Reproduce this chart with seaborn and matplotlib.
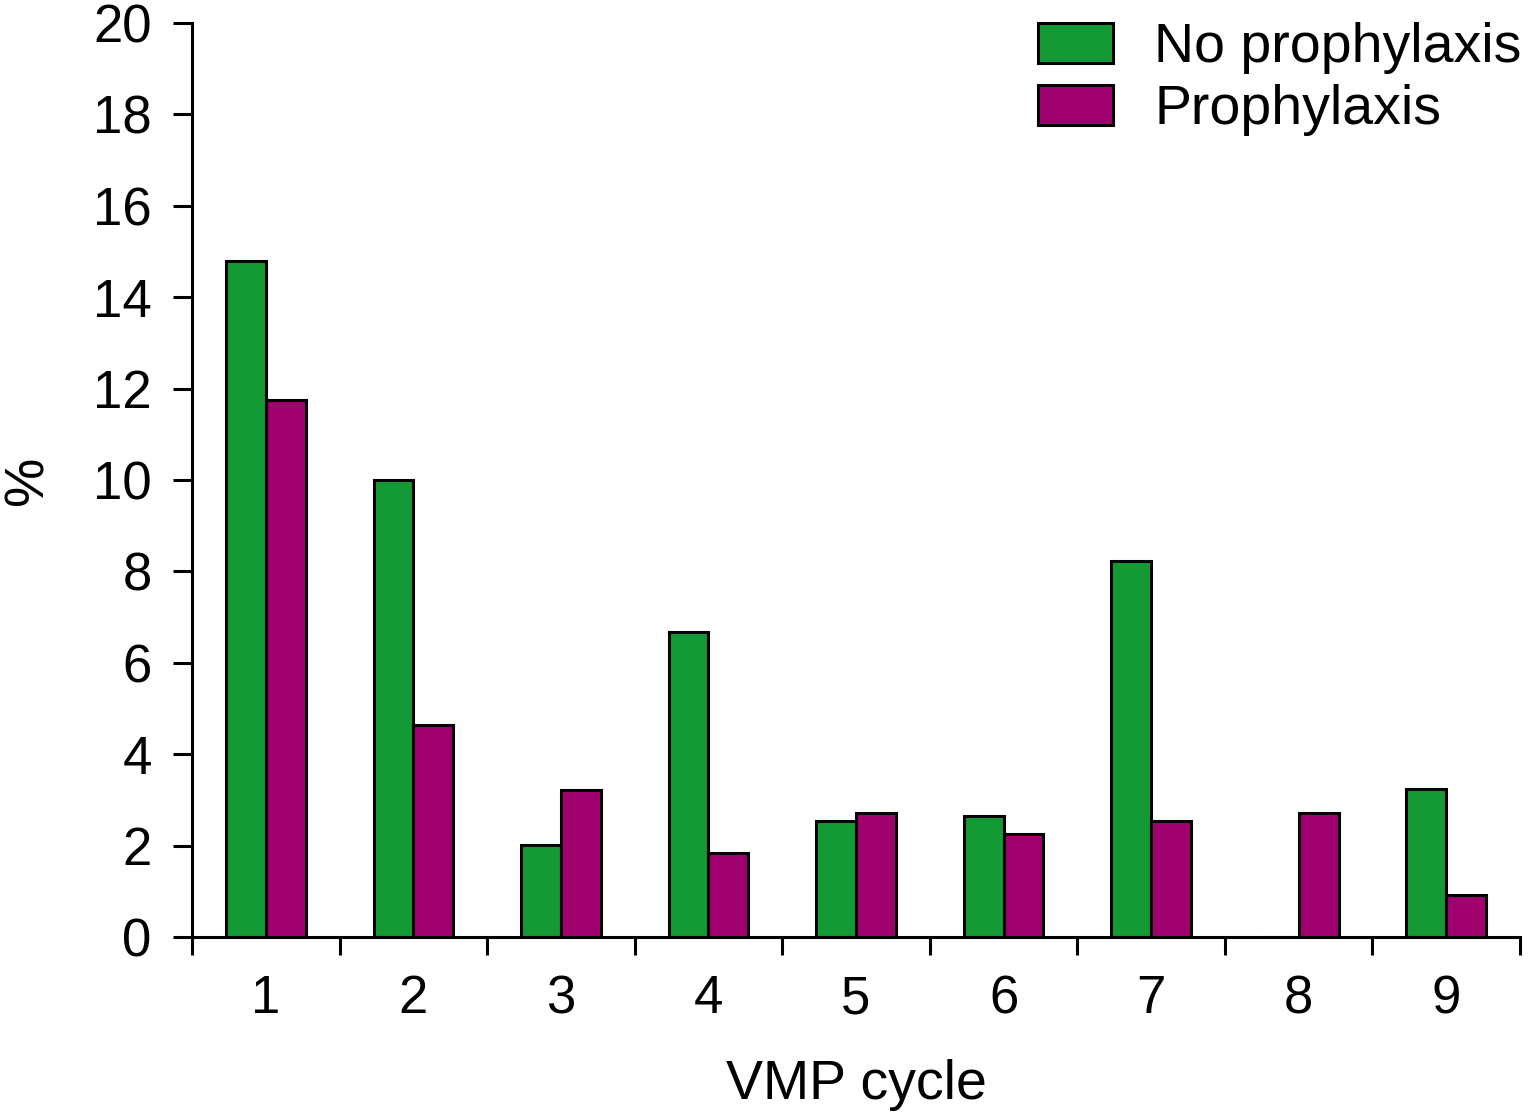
import matplotlib
matplotlib.use("Agg")
import matplotlib.pyplot as plt
import seaborn as sns
import pandas as pd
import numpy as np
from matplotlib.ticker import FixedLocator

cycles = ["1", "2", "3", "4", "5", "6", "7", "8", "9"]
no_prophylaxis = [14.8, 10.0, 2.02, 6.67, 2.54, 2.65, 8.23, 0.0, 3.24]
prophylaxis = [11.75, 4.64, 3.22, 1.84, 2.71, 2.25, 2.54, 2.71, 0.92]
series_names = ["No prophylaxis", "Prophylaxis"]
colors = ["#139A34", "#A0006E"]

df = pd.DataFrame({
    "cycle": cycles * 2,
    "value": no_prophylaxis + prophylaxis,
    "group": [series_names[0]] * len(cycles) + [series_names[1]] * len(cycles),
})

sns.set_style("ticks")
plt.rcParams["font.family"] = ["Liberation Sans", "DejaVu Sans"]
plt.rcParams.update({
    "text.color": "black", "axes.labelcolor": "black",
    "xtick.color": "black", "ytick.color": "black",
    "axes.edgecolor": "black",
})

fig = plt.figure(figsize=(15.3, 11.18), dpi=100)
ax = fig.add_axes([0.1255, 0.1619, 0.868, 0.8175])

sns.barplot(data=df, x="cycle", y="value", hue="group", order=cycles,
            hue_order=series_names, palette=colors, width=0.54, gap=0,
            edgecolor="black", linewidth=2.2, saturation=1, ax=ax, errorbar=None)

ax.set_xlim(-0.5, len(cycles) - 0.5)
ax.set_ylim(0, 20)
ax.set_yticks(np.arange(0, 21, 2))
ax.xaxis.set_minor_locator(FixedLocator(np.arange(-0.5, len(cycles), 1.0)))
ax.tick_params(axis="x", which="major", length=0, pad=27, labelsize=38)
ax.tick_params(axis="x", which="minor", length=13, width=2.2, direction="out")
ax.tick_params(axis="y", which="major", length=14, width=2.2, direction="out", labelsize=38, pad=15)

for s in ["top", "right"]:
    ax.spines[s].set_visible(False)
for s in ["left", "bottom"]:
    ax.spines[s].set_linewidth(2.2)

ax.set_xlabel("VMP cycle", fontsize=40, labelpad=25)
ax.set_ylabel("%", fontsize=40, labelpad=28)

leg = ax.legend(loc="upper right", bbox_to_anchor=(1.018, 1.025), frameon=False,
                fontsize=40, handlelength=1.35, handleheight=0.75,
                handletextpad=0.75, labelspacing=0.18, borderaxespad=0)
for p in leg.get_patches():
    p.set_linewidth(2.2)
    p.set_edgecolor("black")

fig.savefig("out.png", dpi=100)
